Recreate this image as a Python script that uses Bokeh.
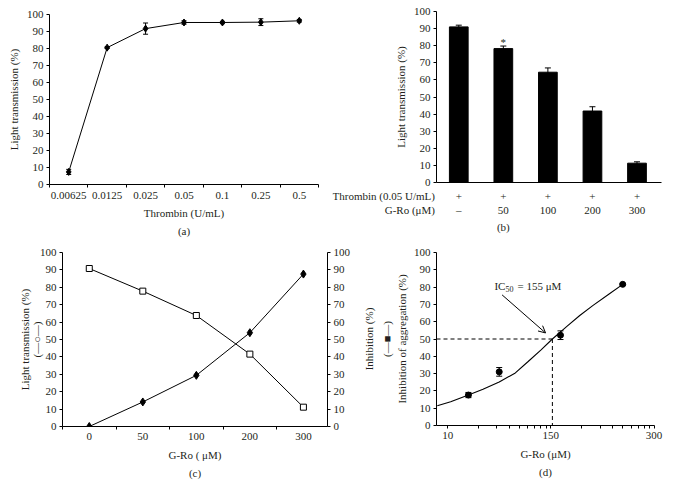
import math
from bokeh.plotting import figure
from bokeh.models import (Range1d, LinearAxis, FixedTicker, Whisker, TeeHead,
                          ColumnDataSource, Label, Arrow, OpenHead, Title)
from bokeh.layouts import row, column
from bokeh.embed import file_html
from bokeh.resources import INLINE

FONT = "Liberation Serif"
TXT = "#231f20"
FS = "11px"

# ---------------- data ----------------
# (a) light transmission vs thrombin concentration
a_cats = ["0.00625", "0.0125", "0.025", "0.05", "0.1", "0.25", "0.5"]
a_trans = [7.4, 80.5, 91.7, 95.3, 95.3, 95.5, 96.3]
a_err = [1.5, 0.5, 3.3, 1.0, 0.7, 2.0, 0.8]

# (b) light transmission with G-Ro
b_thrombin = ["+", "+", "+", "+", "+"]
b_gro = ["\u2013", "50", "100", "200", "300"]
b_trans = [91.0, 78.3, 64.5, 41.8, 11.3]
b_err = [1.0, 1.5, 2.5, 2.5, 0.8]
b_signif = ["", "*", "", "", ""]

# (c) transmission and inhibition vs G-Ro dose
c_doses = ["0", "50", "100", "200", "300"]
c_trans = [90.8, 77.8, 63.8, 41.6, 11.1]
c_inhib = [0.0, 14.1, 29.4, 53.9, 87.6]

# (d) inhibition of aggregation (log axis)
d_conc = [15.9, 31.6, 124, 497]
d_inhib = [17.6, 31.0, 52.2, 81.6]
d_err = [1.5, 2.5, 2.5, 0.5]
d_fit_x = [7.94, 10.7, 15.9, 22.0, 31.6, 45.3, 60.3, 80.4, 103.5, 143, 190.6, 254.6, 364, 497]
d_fit_y = [11.4, 13.7, 17.6, 20.9, 25.1, 30.4, 37.0, 43.7, 50.0, 57.3, 63.6, 69.3, 75.9, 81.6]
d_ticks = [10, 100, 1000]
d_tick_labels = ["10", "150", "300"]
d_minor = [20, 30, 40, 50, 60, 70, 80, 90, 200, 300, 400, 500, 600, 700, 800, 900]
ic50 = 103.5
ic50_level = 50
y_ticks = list(range(0, 101, 10))


def no_align(p):
    if "frame_align" in p.properties():
        p.frame_align = False


def style(p):
    no_align(p)
    p.outline_line_color = None
    p.xgrid.visible = False
    p.ygrid.visible = False
    p.background_fill_color = "white"
    p.border_fill_color = "white"
    for ax in p.axis:
        ax.axis_line_color = "black"
        ax.axis_line_width = 1
        ax.major_tick_line_color = "black"
        ax.minor_tick_line_color = "black"
        ax.major_tick_in = 0
        ax.major_tick_out = 3
        ax.minor_tick_in = 0
        ax.minor_tick_out = 3
        ax.major_label_text_font = FONT
        ax.major_label_text_font_size = FS
        ax.major_label_text_color = TXT
        ax.major_label_standoff = 3
        ax.axis_label_text_font = FONT
        ax.axis_label_text_font_size = FS
        ax.axis_label_text_font_style = "normal"
        ax.axis_label_text_color = TXT


def lab(p, x, y, text, align="center", size=FS, xo=0, yo=0):
    p.add_layout(Label(x=x, y=y, text=text, text_align=align, text_baseline="middle",
                       x_offset=xo, y_offset=yo, text_font=FONT,
                       text_font_size=size, text_color=TXT))


def side_title(p, text, place, standoff):
    p.add_layout(Title(text=text, align="center", standoff=standoff, text_font=FONT,
                       text_font_size=FS, text_font_style="normal", text_color=TXT), place)


# ---------------- (a) ----------------
pa = figure(width=332, height=243, x_range=Range1d(-0.5, 6.5), y_range=Range1d(0, 100),
            output_backend="svg", toolbar_location=None,
            min_border_left=49, min_border_right=14, min_border_top=14, min_border_bottom=59)
xa = list(range(len(a_cats)))
sa = ColumnDataSource(dict(x=xa, y=a_trans,
                           lo=[v - e for v, e in zip(a_trans, a_err)],
                           hi=[v + e for v, e in zip(a_trans, a_err)]))
pa.line("x", "y", source=sa, line_color="black", line_width=1)
pa.add_layout(Whisker(source=sa, base="x", upper="hi", lower="lo", line_color="black",
                      upper_head=TeeHead(size=5, line_color="black"),
                      lower_head=TeeHead(size=5, line_color="black")))
pa.scatter("x", "y", source=sa, marker="diamond", size=7, color="black")
pa.xaxis.ticker = FixedTicker(ticks=xa, minor_ticks=[i - 0.5 for i in range(len(a_cats) + 1)])
pa.xaxis.major_label_overrides = {i: c for i, c in enumerate(a_cats)}
pa.yaxis.ticker = FixedTicker(ticks=y_ticks)
pa.xaxis.axis_label = "Thrombin (U/mL)"
pa.yaxis.axis_label = "Light transmission (%)"
style(pa)
pa.xaxis.major_tick_out = 0
pa.xaxis.major_label_standoff = 4
pa.xaxis.axis_label_standoff = 5
pa.yaxis.axis_label_standoff = 4
side_title(pa, "(a)", "below", 2)

# ---------------- (b) ----------------
B_W, B_H, B_HR = 335, 189, 54
B_L, B_R, B_T, B_B = 104, 6, 11, 7
b_x0, b_x1 = -0.5, 4.55
pb = figure(width=B_W, height=B_H, x_range=Range1d(b_x0, b_x1), y_range=Range1d(0, 100),
            output_backend="svg", toolbar_location=None,
            min_border_left=B_L, min_border_right=B_R, min_border_top=B_T, min_border_bottom=B_B)
xb = list(range(len(b_trans)))
sb = ColumnDataSource(dict(x=xb, top=b_trans,
                           lo=[v - e for v, e in zip(b_trans, b_err)],
                           hi=[v + e for v, e in zip(b_trans, b_err)]))
pb.vbar(x="x", top="top", width=0.42, source=sb, fill_color="black", line_color="black")
pb.add_layout(Whisker(source=sb, base="x", upper="hi", lower="lo", line_color="black",
                      upper_head=TeeHead(size=6, line_color="black"),
                      lower_head=TeeHead(size=6, line_color="black")))
pb.xaxis.ticker = FixedTicker(ticks=[])
pb.yaxis.ticker = FixedTicker(ticks=y_ticks)
pb.yaxis.axis_label = "Light transmission (%)"
style(pb)
pb.xaxis.major_tick_out = 0
pb.xaxis.minor_tick_out = 0
pb.xaxis.major_label_standoff = 0
pb.yaxis.axis_label_standoff = 4
for i in xb:
    if b_signif[i]:
        lab(pb, i, b_trans[i] + b_err[i] + 2.6, b_signif[i])

# treatment rows under the bars: a strip that shares the bar chart's scale
b_px_x = (B_W - B_L - B_R) / (b_x1 - b_x0)
b_px_y = (B_H - B_T - B_B) / 100.0
pbr = figure(width=B_W, height=B_HR,
             x_range=Range1d(b_x0 - B_L / b_px_x, b_x1 + B_R / b_px_x),
             y_range=Range1d(-(B_B + B_HR) / b_px_y, -B_B / b_px_y),
             output_backend="svg", toolbar_location=None,
             x_axis_location=None, y_axis_location=None, min_border=0)
no_align(pbr)
pbr.outline_line_color = None
pbr.xgrid.visible = False
pbr.ygrid.visible = False
for i in xb:
    lab(pbr, i, -7.9, b_thrombin[i])
    lab(pbr, i, -16.3, b_gro[i])
lab(pbr, -0.535, -7.9, "Thrombin (0.05 U/mL)", align="right")
lab(pbr, -0.535, -16.3, "G-Ro (\u03bcM)", align="right")
lab(pbr, 1, -26.3, "(b)")

# ---------------- (c) ----------------
pc = figure(width=356, height=244, x_range=Range1d(-0.5, 4.45), y_range=Range1d(0, 100),
            output_backend="svg", toolbar_location=None,
            min_border_left=62, min_border_right=29, min_border_top=9, min_border_bottom=61)
pc.extra_y_ranges = {"inh": Range1d(0, 100)}
pc.add_layout(LinearAxis(y_range_name="inh", ticker=FixedTicker(ticks=y_ticks)), "right")
xc = list(range(len(c_doses)))
pc.line(xc, c_trans, line_color="black", line_width=1)
pc.scatter(xc, c_trans, marker="square", size=6, fill_color="white", line_color="black", line_width=1)
pc.line(xc, c_inhib, line_color="black", line_width=1, y_range_name="inh")
pc.scatter(xc, c_inhib, marker="diamond", size=8, color="black", y_range_name="inh")
pc.xaxis.ticker = FixedTicker(ticks=xc, minor_ticks=[i - 0.5 for i in range(len(c_doses) + 1)])
pc.xaxis.major_label_overrides = {i: c for i, c in enumerate(c_doses)}
pc.yaxis[0].ticker = FixedTicker(ticks=y_ticks)
pc.xaxis.axis_label = "G-Ro ( \u03bcM)"
style(pc)
pc.xaxis.major_tick_out = 0
pc.xaxis.major_label_standoff = 3
pc.xaxis.axis_label_standoff = 6
pc.yaxis[0].axis_label_standoff = 0
side_title(pc, "(\u2014\u25cb\u2014)", "left", -12)
side_title(pc, "Light transmission (%)", "left", 8)
side_title(pc, "(c)", "below", 2)

# ---------------- (d) ----------------
d_xmin, d_xmax = 7.8, 1010
pdd = figure(width=311, height=244, x_axis_type="log", x_range=Range1d(d_xmin, d_xmax),
             y_range=Range1d(0, 100), output_backend="svg", toolbar_location=None,
             min_border_left=74, min_border_right=13, min_border_top=9, min_border_bottom=62)
pdd.line(d_fit_x, d_fit_y, line_color="black", line_width=1.1)
pdd.line([d_xmin, ic50], [ic50_level, ic50_level], line_color="black", line_width=1, line_dash="4 3")
pdd.line([ic50, ic50], [ic50_level, 0], line_color="black", line_width=1, line_dash="4 3")
sd = ColumnDataSource(dict(x=d_conc, y=d_inhib,
                           lo=[v - e for v, e in zip(d_inhib, d_err)],
                           hi=[v + e for v, e in zip(d_inhib, d_err)]))
pdd.add_layout(Whisker(source=sd, base="x", upper="hi", lower="lo", line_color="black",
                       upper_head=TeeHead(size=6, line_color="black"),
                       lower_head=TeeHead(size=6, line_color="black")))
pdd.scatter("x", "y", source=sd, marker="circle", size=6, color="black")
pdd.add_layout(Arrow(end=OpenHead(size=7, line_color="black", line_width=1),
                     x_start=33.7, y_start=75.5, x_end=88.9, y_end=53.5,
                     line_color="black", line_width=1))
pdd.xaxis.ticker = FixedTicker(ticks=d_ticks, minor_ticks=d_minor)
pdd.xaxis.major_label_overrides = {t: l for t, l in zip(d_ticks, d_tick_labels)}
pdd.yaxis.ticker = FixedTicker(ticks=y_ticks)
pdd.xaxis.axis_label = "G-Ro (\u03bcM)"
pdd.yaxis.axis_label = "Inhibition of aggregation (%)"
style(pdd)
pdd.xaxis.major_label_standoff = 3
pdd.xaxis.axis_label_standoff = 6
pdd.yaxis.axis_label_standoff = 3
# right-axis legend of panel (c), set in the gutter between (c) and (d)
side_title(pdd, "(\u2014\u25a0\u2014)", "left", 0)
side_title(pdd, "Inhibition (%)", "left", 8)
lab(pdd, 28.4, 80.9, "IC", align="left")
lab(pdd, 28.4, 80.9, "50", align="left", size="8px", xo=11, yo=-3)
lab(pdd, 28.4, 80.9, "= 155 \u03bcM", align="left", xo=23)
side_title(pdd, "(d)", "below", 3)

layout = column(row(pa, column(pb, pbr)), row(pc, pdd))
open("out.html", "w").write(file_html(layout, INLINE))
